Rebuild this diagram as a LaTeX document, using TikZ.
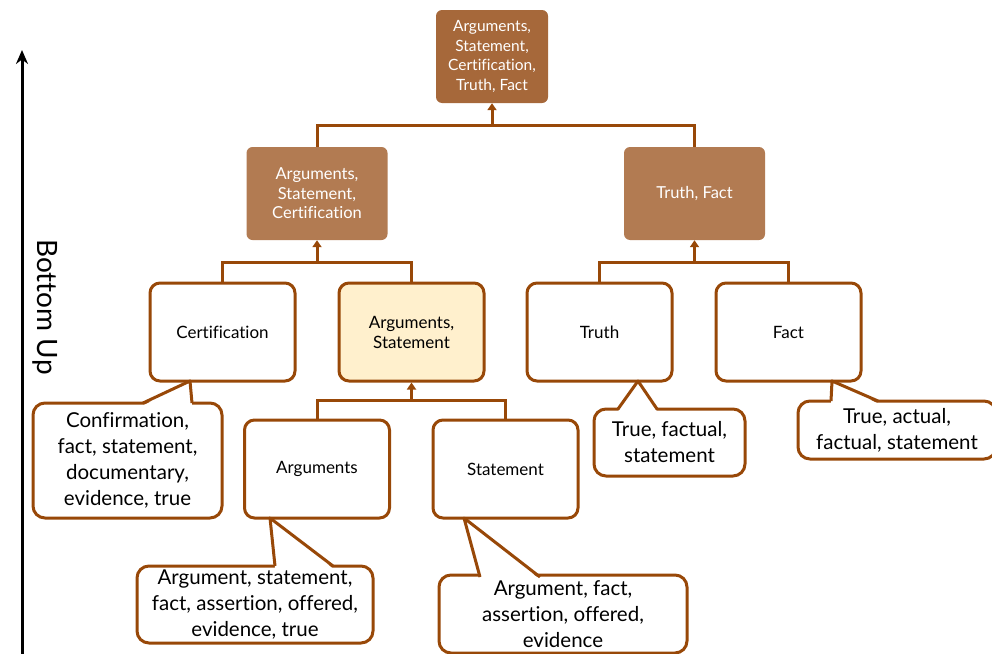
\documentclass[tikz,border=0pt]{standalone}
\usepackage{fontspec}
\setmainfont{Lato}[Ligatures=NoCommon]
\usetikzlibrary{arrows.meta,calc}
\definecolor{bline}{RGB}{152,72,8}
\definecolor{topfill}{RGB}{166,104,58}
\definecolor{midfill}{RGB}{178,123,82}
\definecolor{hifill}{RGB}{255,240,205}
\tikzset{
  darkbox/.style={rounded corners=6, fill=#1, text=white, align=center,
    inner sep=0, minimum width=141, minimum height=93,
    font=\fontsize{16.5}{19.5}\selectfont},
  leafbox/.style={rounded corners=10, draw=bline, line width=3, fill=white,
    align=center, inner sep=0, minimum width=145, minimum height=98,
    font=\fontsize{17}{20}\selectfont},
  callbox/.style={rounded corners=12, draw=bline, line width=3, fill=white,
    align=center, inner sep=0, font=\fontsize{20.5}{26}\selectfont},
  conn/.style={draw=bline, line width=3},
  connarr/.style={draw=bline, line width=3, -{Triangle[width=9,length=7]}},
}
\newcommand{\pointer}[3]{%
  \fill[white] ($(#1)+(0,2.5)$) -- (#2) -- ($(#3)+(0,2.5)$) -- cycle;
  \draw[bline, line width=3, line join=round] (#1) -- (#2) -- (#3);}
\begin{document}
\begin{tikzpicture}[x=1pt,y=-1pt]
\useasboundingbox (0,0) rectangle (992,653);
\clip (0,0) rectangle (992,653);
% left axis
\coordinate (axb) at (22,655);
\coordinate (axt) at (22,50);
\draw[line width=3, -{Stealth[width=12,length=14]}] (axb) -- (axt);
\node[rotate=-90, font=\fontsize{28}{32}\selectfont] (bu) at (45,307) {Bottom Up};
% top
\node[darkbox=topfill, minimum width=112, font=\fontsize{15.5}{19.5}\selectfont] (top) at (492,56.5) {Arguments,\\Statement,\\Certification,\\Truth, Fact};
\node[darkbox=midfill] (m1) at (317,193.5) {Arguments,\\Statement,\\Certification};
\node[darkbox=midfill] (m2) at (694.5,193.5) {Truth, Fact};
% row 3
\node[leafbox] (cert) at (222.5,332) {Certification};
\node[leafbox, fill=hifill] (as) at (411.5,332) {Arguments,\\Statement};
\node[leafbox] (truth) at (599.5,332) {Truth};
\node[leafbox] (fact) at (788.5,332) {Fact};
% row 4
\node[leafbox] (arg) at (317,469) {Arguments};
\node[leafbox] (stat) at (505.5,469) {Statement};
% connectors
\coordinate (j0) at (492,125);
\draw[conn] (m1.north) |- (j0) -| (m2.north);
\draw[connarr] (j0) -- (top.south);
\coordinate (j1) at (317,262);
\draw[conn] (cert.north) |- (j1) -| (as.north);
\draw[connarr] (j1) -- (m1.south);
\coordinate (j2) at (694.5,262);
\draw[conn] (truth.north) |- (j2) -| (fact.north);
\draw[connarr] (j2) -- (m2.south);
\coordinate (j3) at (411.5,400);
\draw[conn] (arg.north) |- (j3) -| (stat.north);
\draw[connarr] (j3) -- (as.south);
% callouts
\node[callbox, minimum width=189, minimum height=115] (c1) at (127.5,460.5)
  {Confirmation,\\fact, statement,\\documentary,\\evidence, true};
\coordinate (t1) at (190,381);
\pointer{143,403}{t1}{192,403}
\node[callbox, minimum width=151, minimum height=67] (c2) at (669.5,442.5)
  {True, factual,\\statement};
\coordinate (t2) at (638,381);
\pointer{618,409}{t2}{657,409}
\node[callbox, minimum width=198, minimum height=58] (c3) at (897,430)
  {True, actual,\\factual, statement};
\coordinate (t3) at (832,381);
\pointer{831,401}{t3}{878,401}
\node[callbox, minimum width=236, minimum height=77] (c4) at (255,604.5)
  {Argument, statement,\\fact, assertion, offered,\\evidence, true};
\coordinate (t4) at (270,518);
\pointer{275,566}{t4}{333,566}
\node[callbox, minimum width=248, minimum height=78] (c5) at (563,614)
  {Argument, fact,\\assertion, offered,\\evidence};
\coordinate (t5) at (464,518);
\pointer{480,577}{t5}{540,577}
\end{tikzpicture}
\end{document}
